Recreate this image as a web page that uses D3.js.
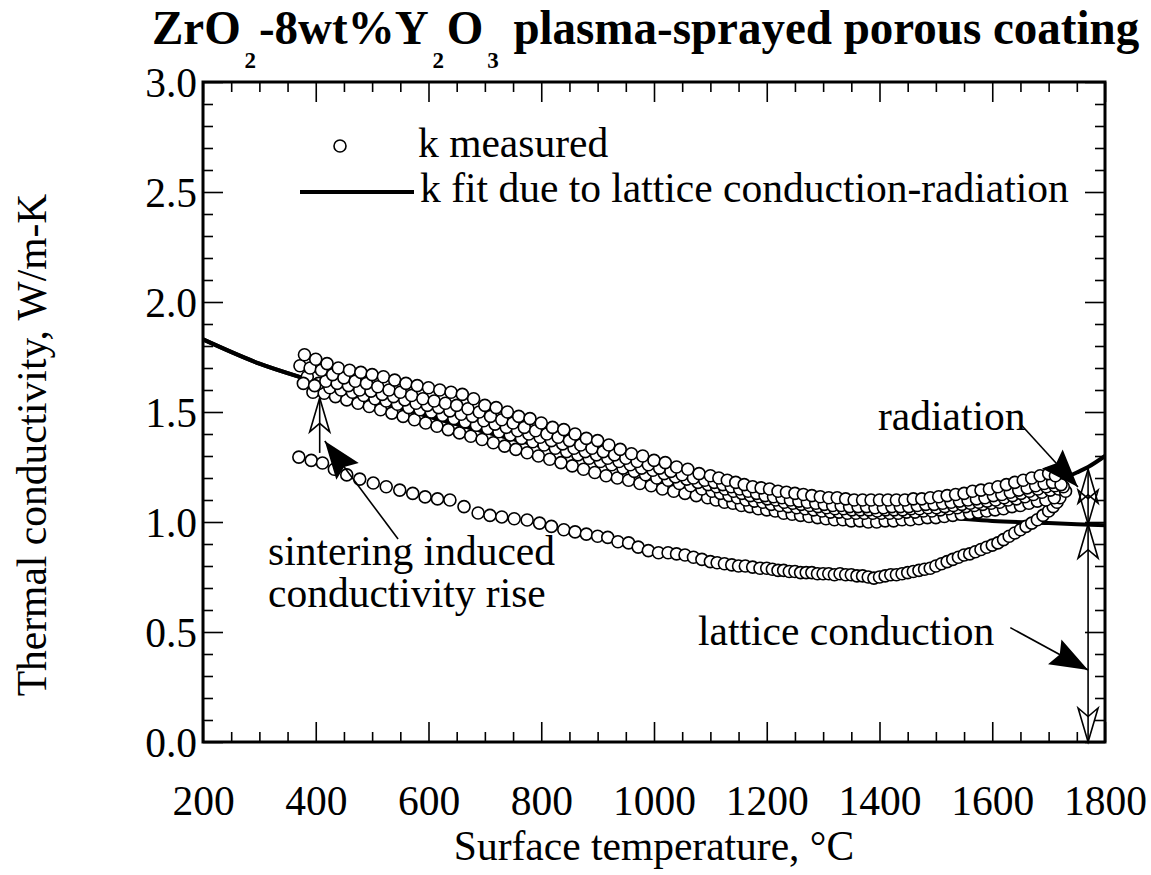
<!DOCTYPE html>
<html>
<head>
<meta charset="utf-8">
<script src="https://cdn.jsdelivr.net/npm/d3@7"></script>
<style>
  html, body { margin: 0; padding: 0; background: #fff; }
  svg { display: block; }
</style>
</head>
<body>
<svg id="chart" width="1151" height="875"></svg>
<script>
const SERIF = "'Liberation Serif', Tinos, 'Times New Roman', Times, serif";
const FS = 41.5;

// Axis tick labels
const xTickLabels = [200, 400, 600, 800, 1000, 1200, 1400, 1600, 1800];
const yTickLabels = [0.0, 0.5, 1.0, 1.5, 2.0, 2.5, 3.0];

// Measured conductivity, heating runs on the sintered coating (T °C, k W/m-K)
const runA = [[380,1.76],[400,1.74],[420,1.72],[440,1.70],[460,1.69],[480,1.68],[500,1.67],[520,1.66],[540,1.645],[560,1.63],[580,1.62],[600,1.61],[620,1.60],[640,1.59],[660,1.58],[680,1.56],[700,1.53],[720,1.52],[740,1.50],[760,1.48],[780,1.47],[800,1.45],[820,1.43],[840,1.42],[860,1.40],[880,1.38],[900,1.37],[920,1.35],[940,1.33],[960,1.31],[980,1.30],[1000,1.28],[1020,1.27],[1040,1.25],[1060,1.24],[1080,1.22],[1100,1.21],[1115,1.20],[1130,1.19],[1145,1.18],[1160,1.17],[1175,1.16],[1190,1.155],[1205,1.15],[1220,1.14],[1235,1.135],[1250,1.13],[1265,1.125],[1280,1.12],[1295,1.115],[1310,1.11],[1325,1.11],[1340,1.105],[1355,1.10],[1370,1.10],[1385,1.10],[1400,1.10],[1415,1.10],[1430,1.10],[1445,1.10],[1460,1.105],[1475,1.105],[1490,1.11],[1505,1.115],[1520,1.12],[1535,1.125],[1550,1.13],[1565,1.14],[1580,1.145],[1595,1.15],[1610,1.16],[1625,1.17],[1640,1.18],[1655,1.19],[1670,1.20],[1685,1.21],[1700,1.22],[1712,1.21]];
const runB = [[372,1.71],[390,1.70],[410,1.69],[430,1.67],[450,1.655],[470,1.64],[490,1.63],[510,1.615],[530,1.60],[550,1.59],[570,1.575],[590,1.56],[610,1.55],[630,1.54],[650,1.53],[670,1.515],[690,1.50],[710,1.48],[730,1.465],[750,1.45],[770,1.43],[790,1.415],[810,1.40],[830,1.385],[850,1.37],[870,1.35],[890,1.335],[910,1.32],[930,1.305],[950,1.29],[970,1.275],[990,1.26],[1010,1.245],[1030,1.23],[1050,1.215],[1070,1.20],[1090,1.19],[1107,1.18],[1122,1.17],[1137,1.16],[1152,1.15],[1167,1.14],[1182,1.13],[1197,1.12],[1212,1.115],[1227,1.11],[1242,1.10],[1257,1.095],[1272,1.09],[1287,1.085],[1302,1.08],[1317,1.075],[1332,1.075],[1347,1.07],[1362,1.07],[1377,1.07],[1392,1.065],[1407,1.065],[1422,1.07],[1437,1.07],[1452,1.07],[1467,1.075],[1482,1.08],[1497,1.08],[1512,1.085],[1527,1.09],[1542,1.095],[1557,1.10],[1572,1.105],[1587,1.11],[1602,1.12],[1617,1.125],[1632,1.135],[1647,1.145],[1662,1.155],[1677,1.165],[1692,1.175],[1707,1.18],[1722,1.17]];
const runC = [[385,1.66],[405,1.63],[425,1.61],[445,1.60],[465,1.59],[485,1.575],[505,1.56],[525,1.55],[545,1.535],[565,1.52],[585,1.51],[605,1.50],[625,1.485],[645,1.47],[665,1.455],[685,1.44],[705,1.425],[725,1.41],[745,1.395],[765,1.38],[785,1.365],[805,1.35],[825,1.335],[845,1.32],[865,1.305],[885,1.29],[905,1.275],[925,1.26],[945,1.245],[965,1.23],[985,1.215],[1005,1.20],[1025,1.19],[1045,1.175],[1065,1.165],[1085,1.15],[1103,1.14],[1118,1.13],[1133,1.12],[1148,1.11],[1163,1.10],[1178,1.095],[1193,1.09],[1208,1.08],[1223,1.075],[1238,1.07],[1253,1.065],[1268,1.06],[1283,1.055],[1298,1.05],[1313,1.045],[1328,1.045],[1343,1.04],[1358,1.04],[1373,1.04],[1388,1.04],[1403,1.04],[1418,1.04],[1433,1.04],[1448,1.045],[1463,1.045],[1478,1.05],[1493,1.05],[1508,1.055],[1523,1.06],[1538,1.065],[1553,1.07],[1568,1.075],[1583,1.08],[1598,1.085],[1613,1.09],[1628,1.10],[1643,1.105],[1658,1.115],[1673,1.125],[1688,1.135],[1703,1.145],[1718,1.15],[1730,1.14]];
const runD = [[395,1.59],[415,1.585],[435,1.57],[455,1.555],[475,1.54],[495,1.525],[515,1.51],[535,1.495],[555,1.48],[575,1.465],[595,1.45],[615,1.435],[635,1.42],[655,1.405],[675,1.39],[695,1.375],[715,1.36],[735,1.345],[755,1.33],[775,1.315],[795,1.30],[815,1.285],[835,1.27],[855,1.255],[875,1.24],[895,1.225],[915,1.21],[935,1.20],[955,1.19],[975,1.175],[995,1.165],[1015,1.15],[1035,1.14],[1055,1.13],[1075,1.12],[1095,1.11],[1110,1.10],[1125,1.09],[1140,1.085],[1155,1.075],[1170,1.07],[1185,1.06],[1200,1.055],[1215,1.05],[1230,1.04],[1245,1.035],[1260,1.03],[1275,1.025],[1290,1.02],[1305,1.015],[1320,1.01],[1335,1.01],[1350,1.005],[1365,1.005],[1380,1.00],[1395,1.00],[1410,1.005],[1425,1.005],[1440,1.01],[1455,1.01],[1470,1.015],[1485,1.02],[1500,1.02],[1515,1.025],[1530,1.03],[1545,1.035],[1560,1.04],[1575,1.045],[1590,1.05],[1605,1.055],[1620,1.06],[1635,1.07],[1650,1.075],[1665,1.085],[1680,1.095],[1695,1.10],[1710,1.11]];
const runE = [[378,1.63],[398,1.62],[418,1.64],[438,1.63],[458,1.62],[478,1.60],[498,1.595],[518,1.58],[538,1.57],[558,1.555],[578,1.54],[598,1.53],[618,1.52],[638,1.505],[658,1.49],[678,1.48],[698,1.46],[718,1.445],[738,1.43],[758,1.415],[778,1.40],[798,1.385],[818,1.37],[838,1.355],[858,1.335],[878,1.32],[898,1.305],[918,1.29],[938,1.275],[958,1.26],[978,1.245],[998,1.235],[1018,1.22],[1038,1.205],[1058,1.195],[1078,1.18],[1096,1.17],[1111,1.16],[1126,1.15],[1141,1.14],[1156,1.13],[1171,1.12],[1186,1.115],[1201,1.105],[1216,1.10],[1231,1.09],[1246,1.085],[1261,1.08],[1276,1.075],[1291,1.07],[1306,1.065],[1321,1.06],[1336,1.06],[1351,1.055],[1366,1.055],[1381,1.055],[1396,1.05],[1411,1.055],[1426,1.055],[1441,1.055],[1456,1.06],[1471,1.06],[1486,1.065],[1501,1.065],[1516,1.07],[1531,1.075],[1546,1.08],[1561,1.085],[1576,1.09],[1591,1.095],[1606,1.10],[1621,1.11],[1636,1.12],[1651,1.13],[1666,1.14],[1681,1.15],[1696,1.16],[1711,1.165],[1726,1.16]];

// Measured conductivity, first heating of the as-sprayed coating
const runFirst = [[370,1.295],[392,1.28],[412,1.268],[433,1.24],[455,1.214],[478,1.195],[502,1.177],[525,1.16],[549,1.145],[572,1.13],[594,1.114],[616,1.105],[638,1.10],[663,1.07],[688,1.041],[709,1.03],[730,1.023],[752,1.015],[775,1.009],[797,0.995],[818,0.98],[840,0.965],[860,0.955],[880,0.945],[900,0.935],[918,0.93],[936,0.91],[955,0.905],[972,0.886],[990,0.87],[1008,0.86],[1025,0.86],[1040,0.855],[1055,0.85],[1070,0.84],[1085,0.83],[1100,0.82],[1112,0.815],[1125,0.81],[1138,0.805],[1150,0.80],[1162,0.80],[1175,0.795],[1188,0.79],[1200,0.79],[1210,0.785],[1220,0.78],[1230,0.78],[1240,0.775],[1250,0.775],[1260,0.77],[1270,0.77],[1280,0.77],[1290,0.765],[1300,0.765],[1310,0.765],[1320,0.76],[1330,0.765],[1340,0.76],[1350,0.76],[1360,0.755],[1370,0.755],[1380,0.75],[1390,0.745],[1400,0.75],[1410,0.755],[1420,0.76],[1430,0.76],[1440,0.765],[1450,0.77],[1460,0.775],[1470,0.78],[1480,0.785],[1490,0.79],[1500,0.80],[1510,0.81],[1520,0.82],[1530,0.83],[1540,0.84],[1550,0.85],[1560,0.855],[1570,0.865],[1580,0.875],[1590,0.885],[1600,0.895],[1610,0.905],[1620,0.92],[1630,0.935],[1640,0.95],[1650,0.965],[1660,0.98],[1670,0.995],[1680,1.01],[1690,1.03],[1700,1.05],[1708,1.07],[1715,1.09],[1720,1.11]];

// Fitted conductivity: lattice conduction only, and lattice conduction + radiation
const fitLattice = [[200,1.83],[300,1.72],[390,1.645],[500,1.56],[600,1.48],[700,1.41],[800,1.345],[900,1.285],[1000,1.23],[1100,1.18],[1200,1.14],[1300,1.10],[1400,1.05],[1500,1.025],[1600,1.005],[1700,0.995],[1800,0.985]];
const fitTotal = [[200,1.83],[300,1.72],[390,1.645],[500,1.56],[600,1.48],[700,1.41],[800,1.345],[900,1.285],[1000,1.235],[1100,1.19],[1200,1.15],[1300,1.11],[1400,1.08],[1500,1.075],[1600,1.10],[1700,1.17],[1750,1.225],[1770,1.25],[1800,1.30]];

const svg = d3.select("#chart")
  .style("font-family", SERIF);
const x = d3.scaleLinear().domain([200, 1800]).range([203, 1105]);
const y = d3.scaleLinear().domain([0, 3]).range([742, 82]);
const [x0, x1] = x.range();
const [y0, y1] = y.range();

// ---- ticks (all inward, on four sides) ----
const xMinor = d3.range(200, 1801, 50).filter(v => v % 200 !== 0);
const yMinor = d3.range(0, 31, 1).map(v => v / 10).filter(v => Math.round(v * 10) % 5 !== 0);
const majorLen = 20, minorLen = 10;

function addAxis(axisFn, scale, pos, values, len, fmt) {
  const a = axisFn(scale).tickValues(values).tickSize(len).tickPadding(0)
    .tickFormat(fmt || (() => ""));
  const g = svg.append("g").attr("transform", pos).call(a)
    .attr("font-family", SERIF).attr("font-size", FS);
  g.select(".domain").remove();
  g.selectAll(".tick line").attr("stroke", "#000").attr("stroke-width", 1.6);
  if (!fmt) g.selectAll(".tick text").remove();
  return g;
}
// bottom
const gxB = addAxis(d3.axisTop, x, `translate(0,${y0})`, xTickLabels, majorLen, d3.format("d"));
addAxis(d3.axisTop, x, `translate(0,${y0})`, xMinor, minorLen);
// top
addAxis(d3.axisBottom, x, `translate(0,${y1})`, xTickLabels, majorLen);
addAxis(d3.axisBottom, x, `translate(0,${y1})`, xMinor, minorLen);
// left
const gyL = addAxis(d3.axisRight, y, `translate(${x0},0)`, yTickLabels, majorLen, d3.format(".1f"));
addAxis(d3.axisRight, y, `translate(${x0},0)`, yMinor, minorLen);
// right
addAxis(d3.axisLeft, y, `translate(${x1},0)`, yTickLabels, majorLen);
addAxis(d3.axisLeft, y, `translate(${x1},0)`, yMinor, minorLen);

// tick labels placed outside the frame
gxB.selectAll(".tick text")
  .attr("y", 815 - y0).attr("dy", null)
  .attr("text-anchor", "middle").attr("fill", "#000");
gyL.selectAll(".tick text")
  .attr("x", 197 - x0).attr("dy", "0.34em")
  .attr("text-anchor", "end").attr("fill", "#000");

// ---- fitted curves ----
const line = d3.line().x(d => x(d[0])).y(d => y(d[1])).curve(d3.curveMonotoneX);
svg.append("path").datum(fitLattice).attr("d", line)
  .attr("fill", "none").attr("stroke", "#000").attr("stroke-width", 4);
svg.append("path").datum(fitTotal).attr("d", line)
  .attr("fill", "none").attr("stroke", "#000").attr("stroke-width", 4);

// ---- measured points ----
const runs = [runFirst, runD, runC, runE, runB, runA];
runs.forEach(run => {
  svg.append("g").selectAll("circle").data(run).join("circle")
    .attr("cx", d => x(d[0])).attr("cy", d => y(d[1])).attr("r", 6)
    .attr("fill", "#fff").attr("stroke", "#000").attr("stroke-width", 1.6);
});

// frame
svg.append("rect").attr("x", x0).attr("y", y1).attr("width", x1 - x0).attr("height", y0 - y1)
  .attr("fill", "none").attr("stroke", "#000").attr("stroke-width", 3);

// ---- arrows ----
// arrowhead outline: tip at (tx,ty), pointing along angle ang (radians)
function headPoints(tx, ty, ang, len, hw, notch) {
  const c = Math.cos(ang), s = Math.sin(ang);
  const loc = [[0, 0], [-len, -hw], [-len * notch, 0], [-len, hw]];
  return loc.map(([u, v]) => [tx + u * c - v * s, ty + u * s + v * c]);
}
function hollowArrow(ax, ay, bx, by, twoHeads) {
  const ang = Math.atan2(by - ay, bx - ax);
  const g = svg.append("g");
  g.append("line").attr("x1", ax).attr("y1", ay).attr("x2", bx).attr("y2", by)
    .attr("stroke", "#000").attr("stroke-width", 1.6);
  const heads = [headPoints(bx, by, ang, 34, 10, 0.75)];
  if (twoHeads) heads.push(headPoints(ax, ay, ang + Math.PI, 34, 10, 0.75));
  heads.forEach(p => g.append("polygon").attr("points", p.join(" "))
    .attr("fill", "none").attr("stroke", "#000").attr("stroke-width", 1.6));
}
function filledArrow(ax, ay, bx, by) {
  const ang = Math.atan2(by - ay, bx - ax);
  svg.append("line").attr("x1", ax).attr("y1", ay).attr("x2", bx).attr("y2", by)
    .attr("stroke", "#000").attr("stroke-width", 1.6);
  svg.append("polygon").attr("points", headPoints(bx, by, ang, 38, 14, 0.85).join(" "))
    .attr("fill", "#000");
}

// sintering-induced rise: first heating -> later runs
hollowArrow(x(407), y(1.314), x(407), y(1.564), false);
filledArrow(x(546), y(0.923), x(416), y(1.368));
// radiation and lattice-conduction contributions at the hot end
hollowArrow(x(1770), y(0.99), x(1770), y(1.24), true);
hollowArrow(x(1770), y(0.99), x(1770), y(0.0), true);
filledArrow(x(1652), y(1.44), x(1752), y(1.159));
filledArrow(x(1632), y(0.52), x(1770), y(0.327));

// ---- annotations ----
const ann = (tx, ty, str) => svg.append("text").attr("x", tx).attr("y", ty)
  .attr("font-family", SERIF).attr("font-size", FS).attr("fill", "#000").text(str);
ann(878, 430, "radiation");
ann(268, 565, "sintering induced");
ann(268, 607, "conductivity rise");
ann(698, 645, "lattice conduction");

// ---- legend ----
svg.append("circle").attr("cx", 340).attr("cy", 146).attr("r", 6)
  .attr("fill", "#fff").attr("stroke", "#000").attr("stroke-width", 1.6);
ann(418, 157, "k measured");
svg.append("line").attr("x1", 300).attr("x2", 414).attr("y1", 192).attr("y2", 192)
  .attr("stroke", "#000").attr("stroke-width", 4);
ann(420, 202, "k fit due to lattice conduction-radiation");

// ---- axis titles ----
ann((x0 + x1) / 2, 860, "Surface temperature, °C").attr("text-anchor", "middle");
ann(0, 0, "Thermal conductivity, W/m-K")
  .attr("transform", `translate(46,${(y0 + y1) / 2 + 33}) rotate(-90)`)
  .attr("text-anchor", "middle");

// ---- title with subscripts ----
const title = svg.append("text").attr("x", 152).attr("y", 44)
  .attr("font-family", SERIF).attr("font-size", 49).attr("font-weight", "bold").attr("fill", "#000");
const parts = [["ZrO", 0], ["2", 1], ["-8wt%Y", 0], ["2", 1], ["O", 0], ["3", 1], [" plasma-sprayed porous coating", 0]];
let down = false;
parts.forEach(([t, sub]) => {
  const ts = title.append("tspan").text(t);
  if (sub) { ts.attr("font-size", 24).attr("dy", down ? 0 : 24).attr("dx", 4); down = true; }
  else if (down) { ts.attr("dy", -24).attr("dx", 3); down = false; }
});
const tw = title.node().getBBox().width;
const sx = 988 / tw;
title.attr("transform", `translate(152,0) scale(${sx},1) translate(-152,0)`);
</script>
</body>
</html>
